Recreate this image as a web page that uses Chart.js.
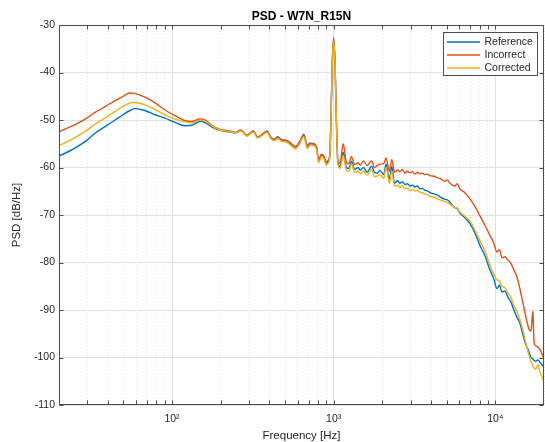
<!DOCTYPE html>
<html>
<head>
<meta charset="utf-8">
<script src="https://cdn.jsdelivr.net/npm/chart.js@4/dist/chart.umd.min.js"></script>
<style>
  html, body { margin: 0; padding: 0; background: #fff; }
  #wrap { width: 545px; height: 442px; }
</style>
</head>
<body>
<div id="wrap"><canvas id="psdChart" width="545" height="442"></canvas></div>
<script>
// Frequencies (Hz) shared by the three PSD curves
const freqHz = [
  20, 21.8, 25.7, 29.7, 33.4, 38.5, 44.5, 49.3, 55, 59, 68, 78.6, 90.6, 104.6, 120, 133, 149, 161, 177, 198,
  228, 248, 266, 291, 318, 338, 357, 387, 406, 429, 451, 476, 512, 554, 580, 619, 654, 686, 713, 750,
  784, 808, 840, 870, 900, 925, 945, 962, 980, 1000, 1020, 1040, 1062, 1094, 1146, 1200, 1240, 1290, 1350, 1415,
  1460, 1530, 1610, 1718, 1785, 1860, 1933, 2040, 2110, 2210, 2290, 2380, 2480, 2570, 2660, 2760, 2860, 2963, 3070, 3180,
  3300, 3417, 3540, 3670, 3800, 3940, 4230, 4400, 4543, 4880, 5050, 5239, 5630, 5800, 6041, 6490, 6966, 7480, 8032, 8630,
  9262, 9800, 10230, 10600, 10990, 11460, 11960, 12480, 13030, 13590, 14190, 14810, 15460, 16140, 16600, 17080, 17330, 17700, 18340, 18880,
  19420, 20000
];

const referenceDb = [
  -57.6, -57.0, -55.7, -54.3, -52.8, -51.4, -50.0, -49.0, -48.0, -47.6, -48.0, -48.9, -49.6, -50.5, -51.2, -51.1, -50.3, -50.6, -51.5, -52.2,
  -52.5, -52.7, -52.2, -53.3, -52.3, -53.6, -53.2, -52.3, -53.5, -54.1, -53.5, -54.2, -54.3, -55.2, -55.6, -54.5, -53.0, -55.4, -54.9, -55.0,
  -55.9, -58.5, -57.3, -57.7, -59.0, -58.7, -57.8, -50.3, -38.2, -33.0, -38.3, -50.5, -59.0, -59.8, -56.8, -60.0, -60.2, -58.7, -60.4, -60.0,
  -60.6, -60.0, -61.0, -59.7, -61.0, -61.2, -60.6, -61.5, -59.3, -62.5, -59.8, -63.3, -62.8, -63.3, -63.0, -63.6, -63.4, -63.9, -63.7, -64.1,
  -63.9, -64.5, -64.4, -64.8, -64.9, -65.3, -65.6, -65.8, -66.2, -66.7, -66.8, -67.3, -68.5, -68.6, -69.6, -70.6, -71.8, -73.8, -76.4, -78.6,
  -81.6, -83.5, -85.5, -84.8, -86.2, -86.0, -87.3, -88.3, -90.0, -91.5, -92.8, -95.2, -97.3, -98.8, -100.0, -100.3, -100.6, -100.8, -100.5, -101.0,
  -101.6, -101.8
];

const incorrectDb = [
  -52.5, -51.9, -50.8, -49.6, -48.4, -47.2, -45.9, -45.1, -44.3, -44.4, -45.2, -46.4, -47.9, -49.1, -50.1, -50.3, -49.8, -50.0, -51.2, -52.0,
  -52.3, -52.6, -52.1, -53.2, -52.3, -53.6, -53.2, -52.4, -53.5, -54.1, -53.6, -54.2, -54.4, -55.2, -55.7, -54.5, -53.1, -55.6, -55.0, -55.0,
  -55.8, -58.4, -57.2, -57.6, -58.8, -58.5, -57.5, -50.0, -38.0, -32.6, -38.0, -50.0, -58.5, -59.1, -55.0, -59.0, -59.2, -57.7, -59.4, -59.0,
  -59.5, -58.6, -59.6, -58.6, -60.0, -59.6, -59.3, -59.2, -58.0, -60.8, -58.3, -61.0, -60.5, -60.9, -60.4, -61.2, -60.8, -61.1, -60.9, -61.4,
  -61.0, -61.3, -61.2, -61.5, -61.4, -61.7, -61.9, -62.2, -62.3, -62.9, -62.6, -63.3, -63.9, -63.4, -64.5, -65.3, -66.6, -68.2, -70.2, -72.2,
  -74.3, -76.0, -77.8, -77.3, -79.0, -78.8, -79.5, -80.2, -81.6, -83.0, -85.5, -88.5, -91.5, -94.0, -94.5, -90.2, -96.5, -97.5, -97.8, -98.3,
  -99.2, -100.2
];

const correctedDb = [
  -55.4, -54.8, -53.5, -52.2, -50.9, -49.6, -48.2, -47.2, -46.4, -46.3, -46.8, -47.8, -48.9, -49.8, -50.4, -50.6, -50.0, -50.3, -51.3, -52.1,
  -52.4, -52.7, -52.3, -53.4, -52.5, -53.8, -53.4, -52.6, -53.8, -54.4, -53.9, -54.5, -54.7, -55.6, -56.1, -54.9, -53.5, -56.0, -55.4, -55.4,
  -56.3, -59.0, -57.8, -58.2, -59.5, -59.1, -58.0, -50.2, -38.3, -33.4, -38.4, -50.5, -59.3, -60.2, -57.5, -60.6, -60.8, -59.2, -61.0, -60.8,
  -61.3, -60.8, -61.6, -60.4, -62.0, -61.8, -61.5, -62.3, -60.0, -63.3, -60.8, -63.9, -63.7, -64.2, -63.8, -64.5, -64.3, -64.9, -64.6, -64.9,
  -64.8, -65.2, -65.3, -65.6, -65.7, -66.1, -66.3, -66.6, -66.8, -67.2, -67.4, -67.7, -68.4, -68.5, -69.4, -70.3, -71.3, -73.2, -75.4, -77.6,
  -80.6, -82.5, -83.6, -83.9, -85.0, -85.3, -86.5, -87.3, -89.0, -90.3, -92.0, -94.3, -97.0, -99.5, -100.8, -101.8, -102.2, -102.5, -101.5, -103.0,
  -104.0, -105.0
];

const seriesLabels = ["Reference", "Incorrect", "Corrected"];
const seriesColors = ["#0072BD", "#D95319", "#EDB120"];

// x ticks: decades get a label, the rest are minor ticks
const xTickValues = [
  20, 30, 40, 50, 60, 70, 80, 90, 100, 200, 300, 400, 500, 600, 700, 800, 900,
  1000, 2000, 3000, 4000, 5000, 6000, 7000, 8000, 9000, 10000, 20000
];
const decadeTicks = [100, 1000, 10000];
const decadeLabels = ["10\u00B2", "10\u00B3", "10\u2074"];

const FONT = "'Liberation Sans', Arial, Helvetica, sans-serif";
const TEXT = "#262626";

function toPoints(vals) {
  return freqHz.map((f, i) => ({ x: f, y: vals[i] }));
}

// MATLAB-style box with inward ticks on all four sides
const boxPlugin = {
  id: "boxPlugin",
  afterDatasetsDraw(chart) {
    const { ctx, chartArea: a, scales } = chart;
    ctx.save();
    ctx.strokeStyle = "#4d4d4d";
    ctx.lineWidth = 1;
    const L = Math.round(a.left) + 0.5, R = Math.round(a.right) - 0.5;
    const T = Math.round(a.top) + 0.5, B = Math.round(a.bottom) - 0.5;
    ctx.strokeRect(L, T, R - L, B - T);
    ctx.beginPath();
    scales.x.ticks.forEach(t => {
      const px = Math.round(scales.x.getPixelForValue(t.value)) + 0.5;
      if (px <= L + 1 || px >= R - 1) return;
      ctx.moveTo(px, B); ctx.lineTo(px, B - 4);
      ctx.moveTo(px, T); ctx.lineTo(px, T + 4);
    });
    scales.y.ticks.forEach(t => {
      const py = Math.round(scales.y.getPixelForValue(t.value)) + 0.5;
      ctx.moveTo(L, py); ctx.lineTo(L + 4, py);
      ctx.moveTo(R, py); ctx.lineTo(R - 4, py);
    });
    ctx.stroke();
    ctx.restore();
  }
};

// Legend box inside the top-right corner of the axes
const legendPlugin = {
  id: "legendPlugin",
  afterDraw(chart) {
    const { ctx, chartArea: a } = chart;
    const w = 94, h = 43;
    const x0 = Math.round(a.right - 7 - w) + 0.5;
    const y0 = Math.round(a.top + 7) + 0.5;
    ctx.save();
    ctx.fillStyle = "#ffffff";
    ctx.fillRect(x0, y0, w, h);
    ctx.strokeStyle = "#4d4d4d";
    ctx.lineWidth = 1;
    ctx.strokeRect(x0, y0, w, h);
    ctx.font = "10.5px " + FONT;
    ctx.textBaseline = "middle";
    ctx.textAlign = "left";
    chart.data.datasets.forEach((ds, i) => {
      const yy = y0 + 9.5 + i * 13;
      ctx.strokeStyle = ds.borderColor;
      ctx.lineWidth = 1.4;
      ctx.beginPath();
      ctx.moveTo(x0 + 3.5, yy);
      ctx.lineTo(x0 + 36.5, yy);
      ctx.stroke();
      ctx.fillStyle = TEXT;
      ctx.fillText(ds.label, x0 + 41, yy);
    });
    ctx.restore();
  }
};

const datasets = [referenceDb, incorrectDb, correctedDb].map((vals, i) => ({
  label: seriesLabels[i],
  data: toPoints(vals),
  borderColor: seriesColors[i],
  backgroundColor: seriesColors[i],
  borderWidth: 1.4,
  pointRadius: 0,
  fill: false,
  cubicInterpolationMode: "monotone",
  order: 3 - i
}));

new Chart(document.getElementById("psdChart").getContext("2d"), {
  type: "line",
  data: { datasets: datasets },
  options: {
    responsive: false,
    animation: false,
    events: [],
    layout: { padding: { left: 0, right: 1, top: 0, bottom: 0 } },
    plugins: {
      legend: { display: false },
      tooltip: { enabled: false },
      title: {
        display: true,
        text: "PSD - W7N_R15N",
        fullSize: false,
        color: "#000",
        font: { family: FONT, size: 12, weight: "bold", lineHeight: 1.2 },
        padding: { top: 9.5, bottom: 1.1 }
      }
    },
    scales: {
      x: {
        type: "logarithmic",
        min: 20,
        max: 20000,
        afterBuildTicks(scale) {
          scale.ticks = xTickValues.map(v => ({ value: v }));
        },
        afterFit(scale) {
          scale.height = 37;
          scale.paddingLeft = 0;
          scale.paddingRight = 0;
        },
        ticks: {
          autoSkip: false,
          maxRotation: 0,
          padding: 8,
          color: TEXT,
          font: { family: FONT, size: 10.5 },
          callback(value) {
            const k = decadeTicks.indexOf(value);
            return k >= 0 ? decadeLabels[k] : "";
          }
        },
        grid: {
          drawTicks: false,
          color(c) {
            return c.tick && decadeTicks.indexOf(c.tick.value) >= 0 ? "#dedede" : "#e2e2e2";
          },
          lineWidth: 1
        },
        border: {
          display: false,
          dash(c) {
            return c.tick && decadeTicks.indexOf(c.tick.value) < 0 ? [1, 2] : [];
          }
        },
        title: {
          display: true,
          text: "Frequency [Hz]",
          color: TEXT,
          font: { family: FONT, size: 11.5, lineHeight: 1.0 },
          padding: { top: 0, bottom: 0 }
        }
      },
      y: {
        type: "linear",
        min: -110,
        max: -30,
        afterFit(scale) {
          scale.width = 59;
          scale.paddingTop = 0;
          scale.paddingBottom = 0;
        },
        ticks: {
          stepSize: 10,
          padding: 4,
          color: TEXT,
          font: { family: FONT, size: 10.5 }
        },
        grid: { drawTicks: false, color: "#e3e3e3", lineWidth: 1 },
        border: { display: false },
        title: {
          display: true,
          text: "PSD [dB/Hz]",
          color: TEXT,
          font: { family: FONT, size: 11.5, lineHeight: 1.2 },
          padding: { top: 10, bottom: 0 }
        }
      }
    }
  },
  plugins: [boxPlugin, legendPlugin]
});
</script>
</body>
</html>
